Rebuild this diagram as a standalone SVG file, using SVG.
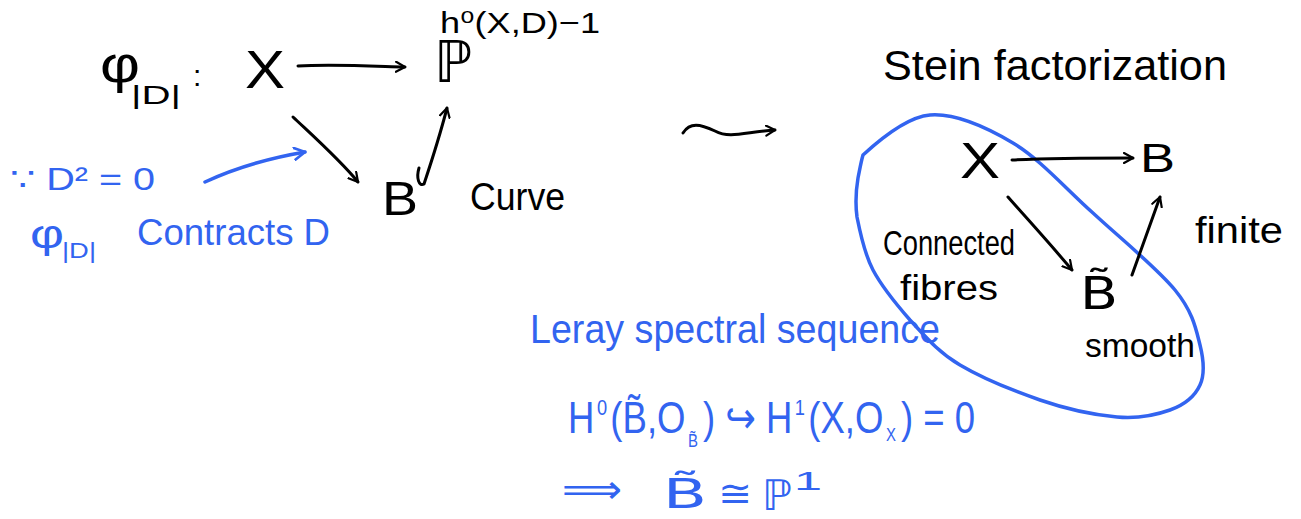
<svg xmlns="http://www.w3.org/2000/svg" width="1301" height="519" viewBox="0 0 1301 519">
<defs>
<style>
.k{fill:#000;font-family:"Liberation Sans","DejaVu Sans",sans-serif}
.b{fill:#3264f0;font-family:"Liberation Sans","DejaVu Sans",sans-serif}
.m{font-family:"DejaVu Sans",sans-serif}
.ck{fill:none;stroke:#000;stroke-width:3;stroke-linecap:round;stroke-linejoin:round}
.cb{fill:none;stroke:#3264f0;stroke-width:3.5;stroke-linecap:round;stroke-linejoin:round}
</style>
<marker id="ak" viewBox="0 0 12 12" refX="10" refY="6" markerWidth="12" markerHeight="12" markerUnits="userSpaceOnUse" orient="auto">
<path d="M1,1 L10,6 L1,11" fill="none" stroke="#000" stroke-width="2.2" stroke-linecap="round" stroke-linejoin="round"/>
</marker>
<marker id="ab" viewBox="0 0 12 12" refX="10" refY="6" markerWidth="14" markerHeight="14" markerUnits="userSpaceOnUse" orient="auto">
<path d="M1,1 L10,6 L1,11" fill="none" stroke="#3264f0" stroke-width="2.4" stroke-linecap="round" stroke-linejoin="round"/>
</marker>
</defs>
<rect width="1301" height="519" fill="#fff"/>

<g id="left-map">
<text class="k" x="100" y="82" font-size="52" textLength="40" lengthAdjust="spacingAndGlyphs">φ</text>
<text class="k" x="131" y="104" font-size="26" textLength="50" lengthAdjust="spacingAndGlyphs">|D|</text>
<text class="k" x="193" y="86" font-size="30">:</text>
</g>
<g id="node-X"><text class="k" x="245" y="88" font-size="54" textLength="40" lengthAdjust="spacingAndGlyphs">X</text></g>
<g id="node-P">
<text class="k m" x="434" y="82" font-size="58" textLength="38" lengthAdjust="spacingAndGlyphs">ℙ</text>
<text class="k" x="440" y="33" font-size="30" textLength="160" lengthAdjust="spacingAndGlyphs">h⁰(X,D)−1</text>
</g>
<g id="node-B"><text class="k" x="382" y="215" font-size="48" textLength="36" lengthAdjust="spacingAndGlyphs">B</text></g>
<g id="label-curve"><text class="k" x="470" y="210" font-size="38" textLength="95" lengthAdjust="spacingAndGlyphs">Curve</text></g>

<g id="note-left">
<text class="b" x="10" y="190" font-size="32" textLength="145" lengthAdjust="spacingAndGlyphs">∵ D² = 0</text>
<text class="b" x="30" y="248" font-size="40" textLength="34" lengthAdjust="spacingAndGlyphs">φ</text>
<text class="b" x="62" y="258" font-size="22" textLength="34" lengthAdjust="spacingAndGlyphs">|D|</text>
<text class="b" x="137" y="245" font-size="36" textLength="193" lengthAdjust="spacingAndGlyphs">Contracts D</text>
</g>

<g id="title-stein"><text class="k" x="883" y="80" font-size="42" textLength="344" lengthAdjust="spacingAndGlyphs">Stein factorization</text></g>

<g id="node-X2"><text class="k" x="960" y="178" font-size="50" textLength="40" lengthAdjust="spacingAndGlyphs">X</text></g>
<g id="node-B2"><text class="k" x="1140" y="172" font-size="40" textLength="35" lengthAdjust="spacingAndGlyphs">B</text></g>
<g id="node-Btilde"><text class="k m" x="1080" y="309" font-size="44" textLength="38" lengthAdjust="spacingAndGlyphs">B̃</text></g>
<g id="label-finite"><text class="k" x="1195" y="243" font-size="36" textLength="88" lengthAdjust="spacingAndGlyphs">finite</text></g>
<g id="label-connected">
<text class="k" x="883" y="255" font-size="35" textLength="132" lengthAdjust="spacingAndGlyphs">Connected</text>
<text class="k" x="900" y="300" font-size="35" textLength="98" lengthAdjust="spacingAndGlyphs">fibres</text>
</g>
<g id="label-smooth"><text class="k" x="1085" y="357" font-size="34" textLength="110" lengthAdjust="spacingAndGlyphs">smooth</text></g>

<g id="region-ellipse">
<path class="cb" d="M863,155 C875,144 905,117 930,115 C955,113 986,127 1013,143 C1040,159 1066,189 1093,213 C1120,238 1157,268 1175,290 C1193,312 1196,329 1200,345 C1204,361 1205,374 1200,385 C1195,396 1184,405 1170,410 C1156,415 1139,419 1117,417 C1095,415 1066,409 1040,400 C1014,391 982,378 960,365 C938,352 925,336 910,320 C896,304 882,287 873,270 C864,253 860,232 857,217 C855,202 856,190 858,178 C860,168 861,162 863,155 Z"/>
</g>

<g id="note-leray">
<text class="b" x="530" y="343" font-size="40" textLength="410" lengthAdjust="spacingAndGlyphs">Leray spectral sequence</text>
<text class="b" x="568" y="433" font-size="44" textLength="407" lengthAdjust="spacingAndGlyphs">H<tspan font-size="22" dx="3" dy="-18">0</tspan><tspan dx="4" dy="18">(B̃,O</tspan><tspan font-size="18" dx="3" dy="14">B̃</tspan><tspan dx="6" dy="-14">) ↪ H</tspan><tspan font-size="22" dx="3" dy="-18">1</tspan><tspan dx="4" dy="18">(X,O</tspan><tspan font-size="18" dx="3" dy="8">X</tspan><tspan dx="6" dy="-8">) = 0</tspan></text>
<text class="b m" x="562" y="503" font-size="40" textLength="60" lengthAdjust="spacingAndGlyphs">⟹</text>
<text class="b m" x="663" y="508" font-size="40" textLength="44" lengthAdjust="spacingAndGlyphs">B̃</text>
<text class="b m" x="718" y="506" font-size="36" textLength="34" lengthAdjust="spacingAndGlyphs">≅</text>
<text class="b m" x="762" y="510" font-size="42" textLength="30" lengthAdjust="spacingAndGlyphs">ℙ</text>
<text class="b" x="794" y="490" font-size="26" textLength="28" lengthAdjust="spacingAndGlyphs">1</text>
</g>

<g id="connectors">
<path class="ck" d="M298,66 C330,64 370,66 405,67" marker-end="url(#ak)"/>
<path class="ck" d="M293,117 C312,135 340,160 358,182" marker-end="url(#ak)"/>
<path class="ck" d="M419,168 C416,178 419,187 424,184 C432,160 440,135 447,108" marker-end="url(#ak)"/>
<path class="ck" d="M683,133 C690,122 700,124 715,131 C730,139 745,132 775,130" marker-end="url(#ak)"/>
<path class="ck" d="M1012,160 C1050,158 1095,158 1133,158" marker-end="url(#ak)"/>
<path class="ck" d="M1008,197 C1030,222 1052,246 1072,270" marker-end="url(#ak)"/>
<path class="ck" d="M1132,275 C1141,250 1150,225 1160,197" marker-end="url(#ak)"/>
<path class="cb" d="M205,182 C235,168 270,158 305,152" marker-end="url(#ab)"/>
</g>
</svg>
